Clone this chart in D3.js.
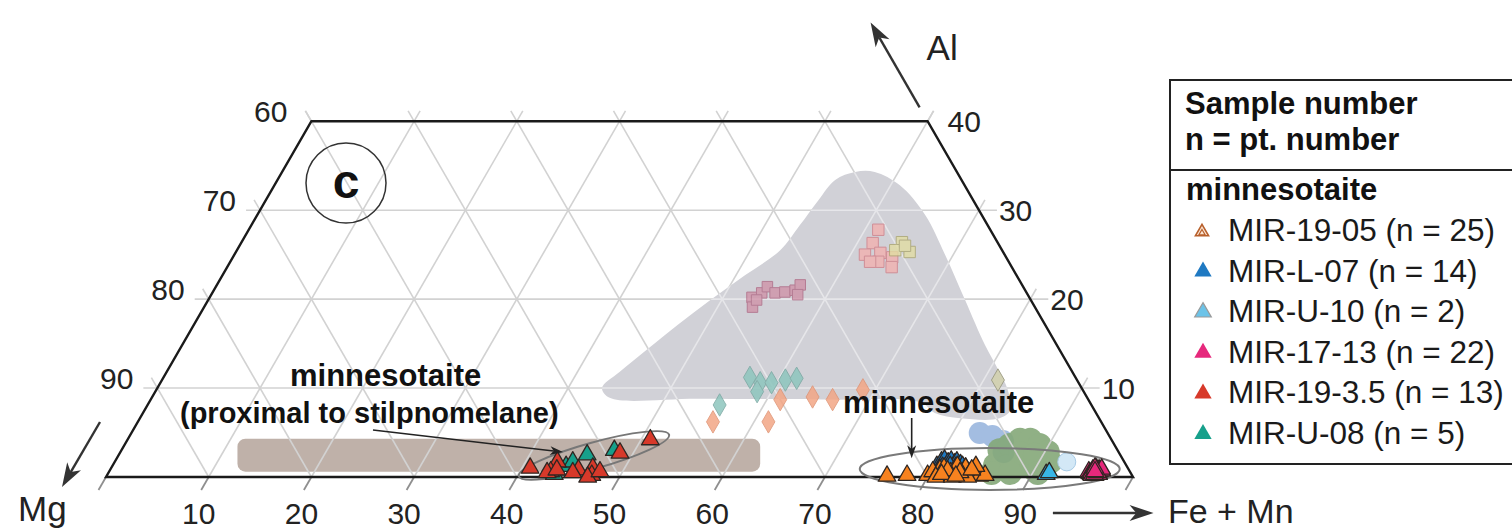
<!DOCTYPE html>
<html>
<head>
<meta charset="utf-8">
<script src="https://cdn.jsdelivr.net/npm/d3@7"></script>
<style>
  html, body { margin: 0; padding: 0; background: #fff; }
  svg { display: block; font-family: "Liberation Sans", Arial, Helvetica, sans-serif; }
</style>
</head>
<body>
<svg id="chart" width="1512" height="530"></svg>
<script>
// Al – Mg – (Fe+Mn) ternary diagram, truncated at Al = 40 %.
// Every point is [Fe+Mn %, Al %]; Mg is the remainder.

const feTicks = [10, 20, 30, 40, 50, 60, 70, 80, 90];
const alTicks = [10, 20, 30, 40];
const mgTicks = [60, 70, 80, 90];
const alMax = 40;

// minnesotaite samples
const mir1905 = [[76.0,0.1],[77.9,0.2],[79.9,0.2],[80.2,0.6],[80.8,0.8],[81.7,0.1],[82.0,0.5],[82.3,0.8],
  [83.2,0.2],[83.2,1.0],[83.9,0.5],[84.3,0.7],[85.0,0.1],[85.5,0.2],[82.3,1.2],[81.1,1.0],[80.8,0.0],
  [82.4,0.0],[83.9,0.0],[84.1,1.2],[81.6,0.7],[82.9,0.5],[83.9,0.8],[81.2,0.3],[82.7,0.1]];
const mirL07 = [[80.3,1.2],[80.5,1.7],[80.7,1.9],[81.2,1.6],[81.4,1.8],[81.9,1.5],[82.0,1.7],[82.5,1.4],
  [82.8,1.2],[83.2,1.0],[80.9,1.1],[81.6,1.2],[82.2,1.1],[80.7,0.9]];
const mirU10 = [[91.4,0.3],[91.6,0.5]];
const mir1713 = [[95.4,0.6],[95.6,0.4],[95.7,0.8],[95.8,0.3],[95.9,0.6],[96.0,0.9],[96.0,0.4],[96.1,0.7],
  [96.2,0.2],[96.2,0.5],[96.3,0.8],[96.4,0.4],[96.4,0.6],[96.5,0.3],[96.6,0.7],[95.7,0.5],[95.9,0.2],
  [96.1,0.3],[96.3,0.5],[96.5,0.9],[95.8,1.0],[96.0,0.6]];
const mir1935 = [[40.8,1.0],[43.1,1.7],[43.0,0.6],[45.6,0.8],[46.9,1.0],[47.2,0.2],[48.7,2.7],[50.9,4.2],
  [42.7,0.5],[45.2,0.5],[46.9,0.0],[43.5,0.8],[47.8,0.6]];
const mirU08 = [[44.2,1.2],[44.6,1.7],[45.6,2.5],[48.0,3.0],[43.5,0.3]];

const sampleNames = ["MIR-19-05 (n = 25)", "MIR-L-07 (n = 14)", "MIR-U-10 (n = 2)",
  "MIR-17-13 (n = 22)", "MIR-19-3.5 (n = 13)", "MIR-U-08 (n = 5)"];
const sampleColors = ["#f7821f", "#1f79c2", "#38b6e6", "#e6287c", "#d7392a", "#17a08b"];

// reference phases plotted in the background
const stilpField = [[43.3,10.0],[44.6,8.9],[53.4,8.8],[66.1,8.7],[75.1,8.4],[77.1,7.2],[79.9,6.6],[83.7,6.6],
  [84.3,7.5],[82.9,9.8],[80.9,12.0],[78.2,14.8],[73.7,19.9],[69.2,25.0],[65.0,29.5],[60.9,32.8],[57.7,34.3],
  [55.8,34.3],[54.3,33.4],[53.8,31.1],[53.4,28.3],[52.9,25.5],[50.9,22.7],[48.9,19.9],[47.1,17.1],
  [45.5,14.3],[44.1,11.8]];
const proximalBand = { feFrom: 12.5, feTo: 63.4, alFrom: 0.6, alTo: 4.3 };
const maroonSquares = [[52.8,20.2],[53.4,19.1],[53.5,20.7],[53.7,21.4],[54.8,20.7],[55.7,20.8],[56.6,21.0],
  [56.8,21.6],[57.1,20.5],[53.4,19.9]];
const pinkSquares = [[61.3,27.8],[61.5,26.3],[61.4,25.0],[62.8,25.2],[63.1,24.2],[64.2,24.7],[64.7,23.6],[62.3,24.2]];
const khakiSquares = [[64.3,26.4],[65.6,25.3],[64.1,25.5],[64.8,26.0]];
const tealDiamonds = [[55.7,8.1],[57.1,11.2],[58.4,10.6],[59.5,10.6],[60.7,10.9],[61.7,11.1],[58.6,9.6]];
const salmonDiamonds = [[56.0,6.2],[61.4,6.2],[61.3,8.7],[64.3,9.0],[66.4,8.7],[68.8,9.8]];
const khakiDiamonds = [[81.4,10.9]];
const greenCloud = [[85.9,1.35],[85.5,3.0],[86.2,3.6],[86.9,4.2],[87.9,4.2],[89.1,3.6],[90.3,2.8],[91.1,1.7],
  [90.7,1.0],[89.7,1.0],[88.4,1.2],[87.2,1.2],[87.65,2.7],[89.2,2.5],[86.0,0.45],[87.8,0.45],[90.5,0.45]];
const blueCloud = [[82.6,4.95],[84.0,4.6],[85.3,4.05],[86.0,2.8]];
const paleCircles = [[92.7,1.7]];

// ---------------------------------------------------------------
const svg = d3.select("#chart");
const side = 1027, ox = 106, oy = 477;
const hx = d3.scaleLinear().domain([0, 100]).range([ox, ox + side]);
const vy = d3.scaleLinear().domain([0, 100]).range([oy, oy - side * Math.sqrt(3) / 2]);
const proj = (fe, al) => [hx(fe + al / 2), vy(al)];
const S3 = Math.sqrt(3) / 2;

const defs = svg.append("defs");
const fieldLayer = svg.append("g");
const gridLayer = svg.append("g");
const frameLayer = svg.append("g");
const markLayer = svg.append("g");
const noteLayer = svg.append("g");

// stilpnomelane field
const fieldPath = d3.line().curve(d3.curveCatmullRomClosed.alpha(0.5))(stilpField.map(d => proj(d[0], d[1])));
fieldLayer.append("path").attr("d", fieldPath).attr("fill", "#d1d1d7");
defs.append("clipPath").attr("id", "fieldClip").append("path").attr("d", fieldPath);

// band for minnesotaite proximal to stilpnomelane
{
  const p0 = proj(proximalBand.feFrom, proximalBand.alFrom);
  const p1 = proj(proximalBand.feTo, proximalBand.alFrom);
  const yTop = vy(proximalBand.alTo);
  fieldLayer.append("rect")
    .attr("x", p0[0]).attr("y", yTop)
    .attr("width", p1[0] - p0[0]).attr("height", p0[1] - yTop)
    .attr("rx", 8).attr("fill", "#bfb1a9");
}

// faded background analyses
const sym = (type, size) => d3.symbol().type(type).size(size)();
function scatter(layer, data, type, size, fill, stroke, opacity) {
  layer.append("g").attr("opacity", opacity)
    .selectAll("path").data(data).join("path")
    .attr("d", sym(type, size))
    .attr("transform", d => `translate(${proj(d[0], d[1])})`)
    .attr("fill", fill).attr("stroke", stroke).attr("stroke-width", 1);
}

fieldLayer.append("g").attr("opacity", 0.85)
  .selectAll("circle").data(blueCloud).join("circle")
  .attr("cx", d => proj(d[0], d[1])[0]).attr("cy", d => proj(d[0], d[1])[1])
  .attr("r", 11).attr("fill", "#94b2dc");
fieldLayer.append("g").attr("opacity", 0.9)
  .selectAll("circle").data(greenCloud).join("circle")
  .attr("cx", d => proj(d[0], d[1])[0]).attr("cy", d => proj(d[0], d[1])[1])
  .attr("r", 12).attr("fill", "#84a878");
fieldLayer.append("g")
  .selectAll("circle").data(paleCircles).join("circle")
  .attr("cx", d => proj(d[0], d[1])[0]).attr("cy", d => proj(d[0], d[1])[1])
  .attr("r", 9).attr("fill", "#d3e8f6").attr("stroke", "#a8cbe6").attr("stroke-width", 1);

// ---------------------------------------------------------------
// grid
const ext = 12;
function seg(layer, a, b, color, w) {
  layer.append("line").attr("x1", a[0]).attr("y1", a[1]).attr("x2", b[0]).attr("y2", b[1])
    .attr("stroke", color).attr("stroke-width", w);
}
function extend(p, dx, dy, len) { return [p[0] + dx * len, p[1] + dy * len]; }

function drawGrid(layer, color) {
  // constant Al (horizontal)
  alTicks.filter(a => a < alMax).forEach(a => {
    const l = proj(0, a), r = proj(100 - a, a);
    seg(layer, extend(l, -1, 0, ext + 2), extend(r, 1, 0, ext + 6), color, 1.6);
  });
  // constant Fe+Mn (parallel to the left edge)
  feTicks.forEach(f => {
    const top = Math.min(alMax, 100 - f);
    seg(layer, proj(f, 0), extend(proj(f, top), 0.5, -S3, ext), color, 1.6);
  });
  // constant Mg (parallel to the right edge)
  feTicks.forEach(f => {
    const top = Math.min(alMax, f);
    seg(layer, proj(f, 0), extend(proj(f - top, top), -0.5, -S3, ext), color, 1.6);
  });
  // short marks where the upper corners continue outward
  seg(layer, proj(0, alMax), extend(proj(0, alMax), -0.5, -S3, ext), color, 1.6);
  seg(layer, proj(100 - alMax, alMax), extend(proj(100 - alMax, alMax), 0.5, -S3, ext), color, 1.6);
}
drawGrid(gridLayer, "#d2d2d2");
drawGrid(gridLayer.append("g").attr("clip-path", "url(#fieldClip)"), "#e6e6ea");

// analyses drawn over the field (washed out)
scatter(gridLayer, maroonSquares, d3.symbolSquare, 110, "#cf8aa2", "#a95a78", 0.7);
scatter(gridLayer, pinkSquares, d3.symbolSquare, 130, "#f2b1b0", "#cf7f88", 0.8);
scatter(gridLayer, khakiSquares, d3.symbolSquare, 130, "#e2dda3", "#aaa56f", 0.8);
scatter(gridLayer, tealDiamonds, d3.symbolDiamond, 145, "#8ec6be", "#7aa9a3", 0.85);
scatter(gridLayer, salmonDiamonds, d3.symbolDiamond, 145, "#f3a685", "#e09373", 0.85);
scatter(gridLayer, khakiDiamonds, d3.symbolDiamond, 145, "#d3d1b0", "#9a9a80", 0.9);

// bottom ticks
d3.range(0, 101, 10).forEach(f => {
  const p = proj(f, 0);
  seg(gridLayer, p, extend(p, -0.5, S3, 15), "#8f8f8f", 1.8);
});

// outline
frameLayer.append("path")
  .attr("d", d3.line()([proj(0, 0), proj(100, 0), proj(100 - alMax, alMax), proj(0, alMax)]) + "Z")
  .attr("fill", "none").attr("stroke", "#1a1a1a").attr("stroke-width", 2.4).attr("stroke-linejoin", "miter");

// tick labels
const tickFont = 30;
frameLayer.selectAll("text.fe").data(feTicks).join("text")
  .attr("x", d => hx(d) - 10).attr("y", 524)
  .attr("text-anchor", "middle").attr("font-size", tickFont).attr("fill", "#222").text(d => d);
frameLayer.selectAll("text.mg").data(mgTicks).join("text")
  .attr("x", d => proj(0, 100 - d)[0] - 24).attr("y", d => proj(0, 100 - d)[1] + 1)
  .attr("text-anchor", "end").attr("font-size", tickFont).attr("fill", "#222").text(d => d);
frameLayer.selectAll("text.al").data(alTicks).join("text")
  .attr("x", d => proj(100 - d, d)[0] + 20)
  .attr("y", d => proj(100 - d, d)[1] + 11)
  .attr("text-anchor", "start").attr("font-size", tickFont).attr("fill", "#222").text(d => d);

// ---------------------------------------------------------------
// arrows
function arrow(layer, x1, y1, x2, y2, o) {
  const dx = x2 - x1, dy = y2 - y1, len = Math.hypot(dx, dy);
  const ux = dx / len, uy = dy / len;
  const nx = -uy, ny = ux;
  const bx = x2 - ux * o.head, by = y2 - uy * o.head;
  const kx = x2 - ux * o.head * 0.72, ky = y2 - uy * o.head * 0.72;
  layer.append("line").attr("x1", x1).attr("y1", y1).attr("x2", kx).attr("y2", ky)
    .attr("stroke", o.color).attr("stroke-width", o.width);
  layer.append("path")
    .attr("d", `M${x2},${y2}L${bx + nx * o.half},${by + ny * o.half}L${kx},${ky}L${bx - nx * o.half},${by - ny * o.half}Z`)
    .attr("fill", o.color);
}
const axisArrow = { head: 24, half: 8, width: 2.4, color: "#333" };
{
  // Al arrow, parallel to the right edge
  const base = proj(100 - alMax, alMax);
  const s = extend(base, -0.5, -S3, 16), e = extend(base, -0.5, -S3, 114);
  arrow(noteLayer, s[0], s[1], e[0], e[1], axisArrow);
  noteLayer.append("text").attr("x", base[0] - 1).attr("y", 60).attr("font-size", 35).attr("fill", "#222").text("Al");
  // Mg arrow, pointing down-left beside the Mg corner
  const m = proj(0, 0);
  arrow(noteLayer, m[0] - 6, m[1] - 55, m[0] - 44, m[1] + 10, axisArrow);
  noteLayer.append("text").attr("x", 18).attr("y", 521).attr("font-size", 35).attr("fill", "#222").text("Mg");
  // Fe + Mn arrow
  arrow(noteLayer, hx(92.2), 513, hx(102), 513, axisArrow);
  noteLayer.append("text").attr("x", hx(103.4)).attr("y", 523).attr("font-size", 34).attr("fill", "#222").text("Fe + Mn");
}

// panel letter
noteLayer.append("circle").attr("cx", 346).attr("cy", 183).attr("r", 40)
  .attr("fill", "none").attr("stroke", "#333").attr("stroke-width", 1.5);
noteLayer.append("text").attr("x", 346).attr("y", 198).attr("text-anchor", "middle")
  .attr("font-size", 48).attr("font-weight", "bold").attr("fill", "#111").text("c");

// group outlines
{
  const c1 = proj(46.3, 2.42);
  markLayer.append("ellipse").attr("cx", 0).attr("cy", 0).attr("rx", 78).attr("ry", 13)
    .attr("transform", `translate(${c1}) rotate(-15.5)`)
    .attr("fill", "none").attr("stroke", "#777").attr("stroke-width", 2);
  const c2 = proj(85.6, 0.9);
  markLayer.append("ellipse").attr("cx", c2[0]).attr("cy", c2[1]).attr("rx", 130).attr("ry", 21)
    .attr("fill", "none").attr("stroke", "#7a7a7a").attr("stroke-width", 2);
}

// sample triangles (back to front)
const triSize = 135;
const drawOrder = [1, 2, 3, 0, 5, 4];
const samples = [mir1905, mirL07, mirU10, mir1713, mir1935, mirU08];
drawOrder.forEach(i => {
  markLayer.append("g").selectAll("path").data(samples[i]).join("path")
    .attr("d", sym(d3.symbolTriangle, triSize))
    .attr("transform", d => `translate(${proj(d[0], d[1])})`)
    .attr("fill", sampleColors[i]).attr("stroke", "#2e2622").attr("stroke-width", 1.3)
    .attr("stroke-linejoin", "round");
});

// annotations
noteLayer.append("text").attr("x", 290).attr("y", 386).attr("font-size", 31)
  .attr("font-weight", "bold").attr("fill", "#111").text("minnesotaite");
noteLayer.append("text").attr("x", 180).attr("y", 423).attr("font-size", 29)
  .attr("font-weight", "bold").attr("fill", "#111").text("(proximal to stilpnomelane)");
{
  const tip = proj(43.1, 2.8);
  arrow(noteLayer, 373, 430, tip[0], tip[1], { head: 13, half: 4.5, width: 1.6, color: "#222" });
}
noteLayer.append("text").attr("x", 843).attr("y", 413).attr("font-size", 31)
  .attr("font-weight", "bold").attr("fill", "#111").text("minnesotaite");
{
  const tip = proj(77.4, 2.1);
  arrow(noteLayer, tip[0], 418, tip[0], tip[1], { head: 13, half: 4.5, width: 1.6, color: "#222" });
}

// ---------------------------------------------------------------
// legend
const lg = svg.append("g");
lg.append("rect").attr("x", 1170).attr("y", 80).attr("width", 400).attr("height", 384)
  .attr("fill", "#fff").attr("stroke", "#222").attr("stroke-width", 2);
lg.append("line").attr("x1", 1170).attr("x2", 1570).attr("y1", 170).attr("y2", 170)
  .attr("stroke", "#222").attr("stroke-width", 2);
lg.append("text").attr("x", 1185).attr("y", 114).attr("font-size", 31).attr("font-weight", "bold")
  .attr("fill", "#111").text("Sample number");
lg.append("text").attr("x", 1185).attr("y", 150).attr("font-size", 31).attr("font-weight", "bold")
  .attr("fill", "#111").text("n = pt. number");
lg.append("text").attr("x", 1186).attr("y", 200).attr("font-size", 31).attr("font-weight", "bold")
  .attr("fill", "#111").text("minnesotaite");

const rowY = d3.scaleLinear().domain([0, 5]).range([230, 433]);
const rows = lg.selectAll("g.row").data(sampleNames).join("g")
  .attr("transform", (d, i) => `translate(0,${rowY(i)})`);
rows.append("text").attr("x", 1228).attr("y", 11).attr("font-size", 31.5).attr("fill", "#1a1a1a").text(d => d);
rows.each(function (d, i) {
  const g = d3.select(this);
  if (i === 0) {
    g.append("path").attr("d", sym(d3.symbolTriangle, 75)).attr("transform", "translate(1202,2)")
      .attr("fill", "#fbe6d6").attr("stroke", "#b8602c").attr("stroke-width", 1.6);
    g.append("path").attr("d", sym(d3.symbolTriangle, 16)).attr("transform", "translate(1202,3)")
      .attr("fill", "none").attr("stroke", "#b8602c").attr("stroke-width", 1.2);
  } else if (i === 2) {
    g.append("path").attr("d", sym(d3.symbolTriangle, 120)).attr("transform", "translate(1203,1)")
      .attr("fill", "#6cc3e8").attr("stroke", "#9a9a9a").attr("stroke-width", 1.2);
  } else {
    g.append("path").attr("d", sym(d3.symbolTriangle, 130)).attr("transform", "translate(1203,1)")
      .attr("fill", sampleColors[i]);
  }
});
</script>
</body>
</html>
